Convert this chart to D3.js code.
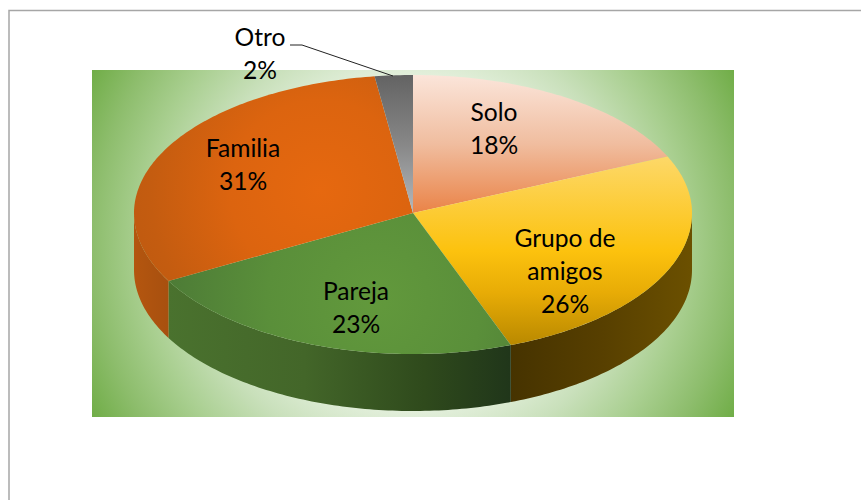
<!DOCTYPE html>
<html>
<head>
<meta charset="utf-8">
<script src="https://cdn.jsdelivr.net/npm/d3@7"></script>
<style>
    html, body { margin: 0; padding: 0; background: #fff; }
    svg { display: block; }
    text { font-family: Lato, "Open Sans", sans-serif; font-size: 24.6px; fill: #000; text-anchor: middle; }
</style>
</head>
<body>
<div id="chart"></div>
<script>
const categories = ['Solo', 'Grupo de amigos', 'Pareja', 'Familia', 'Otro'];
const category_lines = [['Solo'], ['Grupo de', 'amigos'], ['Pareja'], ['Familia'], ['Otro']];
const shares = [18.3, 26, 22.7, 30.8, 2.2];

const draw_chart = () => {

    // CONFIG

    const width = 861,
        height = 500;

    const cx = 413,
        cy = 213,
        rx = 279,
        ry_back = 138,
        ry_front = 141,
        depth = 57;

    // label anchor (x, first baseline) per slice
    const label_pos = [[494, 121], [565, 247], [356, 300], [243, 157], [260, 46]];

    // FUNCTIONS

    const project = (a, dy = 0) => {
        const c = Math.cos(a);
        return [cx + rx * Math.sin(a), cy - (c > 0 ? ry_back : ry_front) * c + dy];
    }

    const arc_points = (a0, a1, dy = 0) => {
        const n = Math.max(2, Math.ceil((a1 - a0) * 60));
        return d3.range(n + 1).map((i) => project(a0 + (a1 - a0) * i / n, dy));
    }

    const line = d3.line();

    const add_linear = (id, x1, y1, x2, y2, stops) => {
        const g = defs.append('linearGradient')
            .attr('id', id)
            .attr('gradientUnits', 'userSpaceOnUse')
            .attr('x1', x1).attr('y1', y1)
            .attr('x2', x2).attr('y2', y2);
        stops.forEach((s) => g.append('stop').attr('offset', s[0]).attr('stop-color', s[1]));
    }

    const add_radial = (id, x, y, r, stops) => {
        const g = defs.append('radialGradient')
            .attr('id', id)
            .attr('gradientUnits', 'userSpaceOnUse')
            .attr('cx', x).attr('cy', y).attr('r', r);
        stops.forEach((s) => g.append('stop').attr('offset', s[0]).attr('stop-color', s[1]));
    }

    // D3

    const svg = d3.select('#chart')
        .append('svg')
        .attr('width', width)
        .attr('height', height);

    const defs = svg.append('defs');

    add_radial('bg', 413, 243, 365, [[0.45, '#e4f0dd'], [0.6, '#c9e0bb'], [0.75, '#a9cf90'], [0.88, '#8dbd6c'], [1, '#70ad47']]);

    // top faces
    add_linear('top0', 0, 75, 0, 213, [[0, '#fbe5da'], [0.5, '#f0bd9f'], [1, '#ea8347']]);
    add_linear('top1', 0, 157, 0, 345, [[0, '#fdd868'], [0.5, '#fcc20e'], [0.72, '#e8ac06'], [1, '#b98900']]);
    add_radial('top2', 375, 300, 215, [[0, '#62993c'], [0.5, '#5a8f3a'], [1, '#4c7a36']]);
    add_radial('top3', 320, 190, 200, [[0, '#e6680f'], [0.45, '#dc640f'], [0.85, '#c45c10'], [1, '#bf5a10']]);
    add_linear('top4', 0, 75, 0, 213, [[0, '#636363'], [0.5, '#878787'], [1, '#b4b8bc']]);

    // side walls
    add_linear('side1', 510, 0, 691, 0, [[0, '#463300'], [0.5, '#573f00'], [1, '#6b5000']]);
    add_linear('side2', 167, 0, 510, 0, [[0, '#4a722e'], [0.4, '#436629'], [0.75, '#2f4a1c'], [1, '#20361a']]);
    add_linear('side3', 134, 0, 167, 0, [[0, '#b4560f'], [1, '#a8500f']]);

    svg.append('rect')
        .attr('x', 92)
        .attr('y', 70)
        .attr('width', 642)
        .attr('height', 347)
        .attr('fill', 'url(#bg)');

    svg.append('path')
        .attr('d', `M9,${height}V10.5H${width}`)
        .attr('fill', 'none')
        .attr('stroke', '#a6a6a6')
        .attr('stroke-width', 1.5);

    const pie = d3.pie().sort(null)(shares);

    // side walls, only the front half of the rim shows
    svg.append('g')
        .selectAll('path')
        .data(pie)
        .enter()
        .filter((d) => d.endAngle > Math.PI / 2 && d.startAngle < 3 * Math.PI / 2)
        .append('path')
        .attr('d', (d) => {
            const a0 = Math.max(d.startAngle, Math.PI / 2);
            const a1 = Math.min(d.endAngle, 3 * Math.PI / 2);
            return line(arc_points(a0, a1).concat(arc_points(a0, a1, depth).reverse())) + 'Z';
        })
        .attr('fill', (d) => `url(#side${d.index})`);

    svg.append('g')
        .selectAll('path')
        .data(pie)
        .enter()
        .append('path')
        .attr('d', (d) => line([[cx, cy]].concat(arc_points(d.startAngle, d.endAngle))) + 'Z')
        .attr('fill', (d) => `url(#top${d.index})`);

    // leader for the small slice
    svg.append('polyline')
        .attr('points', '290,45 302,45 393,76')
        .attr('fill', 'none')
        .attr('stroke', '#222')
        .attr('stroke-width', 1);

    const labels = svg.append('g')
        .selectAll('text')
        .data(pie)
        .enter()
        .append('text')
        .attr('data-category', (d) => categories[d.index])
        .attr('x', (d) => label_pos[d.index][0])
        .attr('y', (d) => label_pos[d.index][1]);

    labels.selectAll('tspan')
        .data((d) => category_lines[d.index].concat(`${Math.round(d.value)}%`).map((t) => ({ t: t, x: label_pos[d.index][0] })))
        .enter()
        .append('tspan')
        .attr('x', (d) => d.x)
        .attr('dy', (d, i) => i === 0 ? 0 : 33)
        .text((d) => d.t);
}

draw_chart();
</script>
</body>
</html>
